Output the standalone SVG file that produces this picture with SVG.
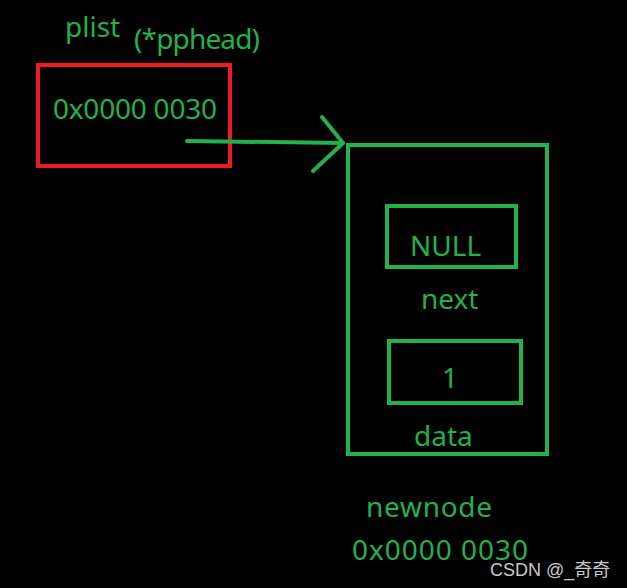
<svg xmlns="http://www.w3.org/2000/svg" width="627" height="588" viewBox="0 0 627 588">
<style>
text{font-family:"Noto Sans","Open Sans","DejaVu Sans",sans-serif;fill:#22b14c}
.t{font-size:28px}
.box{fill:none;stroke:#22b14c;stroke-width:4}
</style>
<rect width="627" height="588" fill="#000"/>
<g id="plist">
<rect x="38" y="65" width="192" height="101" fill="none" stroke="#ed1c24" stroke-width="4"/>
<text class="t" x="53" y="119" textLength="164">0x0000 0030</text>
<text class="t" x="65" y="37">plist</text>
<text class="t" x="134" y="49" textLength="126">(*pphead)</text>
</g>
<g id="connectors">
<path d="M187 141 L343 143" fill="none" stroke="#22b14c" stroke-width="4" stroke-linecap="round"/>
<path d="M322 117 L343 143 L313 171" fill="none" stroke="#22b14c" stroke-width="4" stroke-linecap="round" stroke-linejoin="round"/>
</g>
<g id="newnode">
<rect class="box" x="348" y="145" width="199" height="309"/>
<rect class="box" x="387" y="206" width="129" height="61"/>
<text class="t" x="410" y="256">NULL</text>
<text class="t" x="421" y="309">next</text>
<rect class="box" x="389" y="341" width="132" height="62"/>
<text class="t" x="450" y="388" text-anchor="middle">1</text>
<text class="t" x="414" y="446">data</text>
<text class="t" x="366" y="517" textLength="126">newnode</text>
<text class="t" x="352" y="560" textLength="176">0x0000 0030</text>
</g>
<text x="490" y="576" style="font-family:'Liberation Sans','Noto Sans CJK SC',sans-serif;font-size:18px;fill:#c8c8c8">CSDN @_奇奇</text>
</svg>
